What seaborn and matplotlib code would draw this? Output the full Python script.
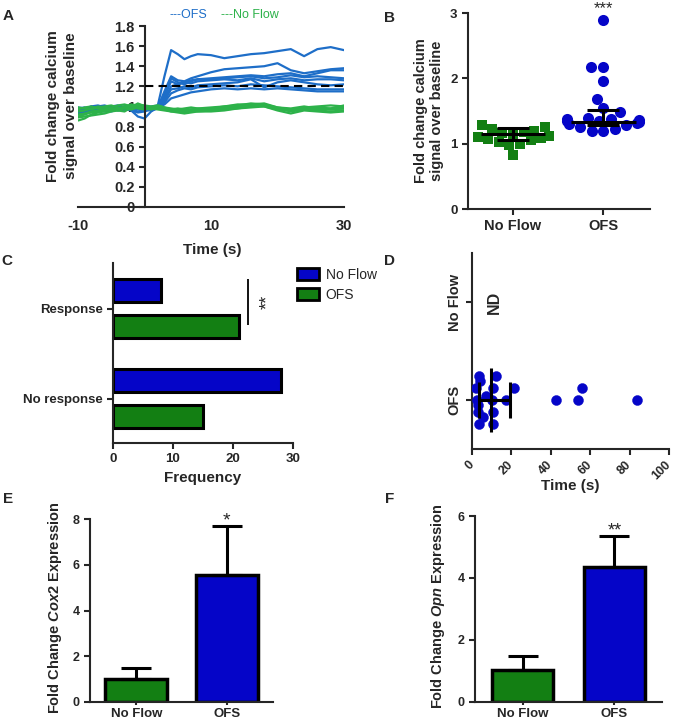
import numpy as np
import pandas as pd
import seaborn as sns
import matplotlib.pyplot as plt
from matplotlib.patches import Patch

# ---- Panel A: calcium traces (fold change over baseline) ----
t_sec = [-10, -9, -8, -7, -6, -5, -4, -3, -2, -1, 0, 1, 2, 3, 4, 5, 6, 7, 8,
         10, 12, 14, 16, 18, 20, 22, 24, 26, 28, 30]
ofs_traces = [
    [0.95, 0.97, 0.99, 1.00, 0.98, 0.97, 0.99, 1.00, 0.98, 0.97, 0.99, 1.00, 1.01, 1.30, 1.56, 1.52, 1.47, 1.50, 1.52, 1.51, 1.48, 1.50, 1.52, 1.53, 1.55, 1.57, 1.50, 1.57, 1.59, 1.56],
    [0.93, 0.96, 1.00, 1.01, 0.99, 0.97, 0.98, 1.00, 0.96, 0.90, 0.88, 0.95, 0.99, 1.15, 1.30, 1.26, 1.25, 1.28, 1.30, 1.34, 1.37, 1.38, 1.39, 1.40, 1.43, 1.36, 1.33, 1.35, 1.37, 1.38],
    [0.98, 0.99, 0.97, 0.96, 0.98, 1.00, 1.01, 0.99, 0.97, 0.95, 0.97, 0.99, 1.00, 1.12, 1.28, 1.24, 1.22, 1.25, 1.27, 1.28, 1.29, 1.30, 1.31, 1.30, 1.32, 1.33, 1.30, 1.33, 1.36, 1.36],
    [0.96, 0.95, 0.97, 0.99, 1.00, 0.98, 0.96, 0.97, 0.99, 1.00, 0.98, 0.97, 0.99, 1.10, 1.25, 1.22, 1.24, 1.26, 1.27, 1.27, 1.28, 1.29, 1.30, 1.28, 1.29, 1.31, 1.29, 1.30, 1.29, 1.28],
    [0.92, 0.94, 0.96, 0.97, 0.95, 0.96, 0.98, 0.99, 1.00, 0.98, 0.96, 0.98, 1.00, 1.08, 1.20, 1.22, 1.24, 1.23, 1.25, 1.26, 1.27, 1.26, 1.28, 1.25, 1.27, 1.28, 1.26, 1.27, 1.27, 1.26],
    [0.97, 0.98, 1.00, 0.99, 0.97, 0.95, 0.97, 0.98, 0.96, 0.94, 0.95, 0.97, 0.98, 1.06, 1.17, 1.18, 1.20, 1.19, 1.21, 1.22, 1.23, 1.24, 1.27, 1.19, 1.24, 1.26, 1.24, 1.22, 1.21, 1.22],
    [0.94, 0.96, 0.98, 1.00, 1.01, 0.99, 0.97, 0.96, 0.98, 0.99, 0.97, 0.96, 0.98, 1.04, 1.13, 1.16, 1.18, 1.17, 1.19, 1.20, 1.21, 1.20, 1.22, 1.21, 1.20, 1.19, 1.18, 1.17, 1.17, 1.17],
    [0.99, 0.98, 0.96, 0.95, 0.97, 0.99, 1.00, 0.98, 0.97, 0.98, 0.99, 0.98, 0.99, 1.02, 1.08, 1.10, 1.12, 1.14, 1.15, 1.17, 1.18, 1.17, 1.18, 1.17, 1.18, 1.17, 1.16, 1.15, 1.15, 1.15],
]
noflow_traces = [
    [0.86, 0.88, 0.92, 0.94, 0.95, 0.97, 0.98, 1.00, 1.02, 1.01, 0.99, 0.98, 1.00, 0.98, 0.97, 0.96, 0.95, 0.96, 0.95, 0.96, 0.98, 0.99, 1.01, 1.02, 0.98, 0.95, 0.97, 0.96, 0.95, 0.96],
    [0.89, 0.90, 0.91, 0.92, 0.93, 0.95, 0.96, 0.95, 0.99, 1.03, 1.00, 0.99, 1.00, 0.97, 0.95, 0.95, 0.94, 0.95, 0.96, 0.97, 0.99, 1.00, 1.02, 1.03, 0.99, 0.97, 0.99, 0.97, 0.98, 0.99],
    [0.97, 0.99, 1.00, 0.98, 0.97, 0.99, 1.01, 1.02, 1.00, 0.98, 0.97, 0.99, 1.01, 0.99, 0.98, 0.97, 0.98, 0.99, 0.98, 0.97, 0.98, 1.00, 1.01, 1.00, 0.97, 0.96, 0.98, 0.99, 0.97, 0.98],
    [0.95, 0.96, 0.98, 1.00, 0.99, 0.97, 0.96, 0.98, 1.00, 1.01, 0.99, 0.98, 0.97, 0.96, 0.95, 0.94, 0.93, 0.94, 0.95, 0.95, 0.96, 0.98, 0.99, 1.00, 0.96, 0.93, 0.96, 0.95, 0.94, 0.95],
    [0.92, 0.93, 0.95, 0.96, 0.97, 0.98, 0.97, 0.99, 1.01, 1.00, 0.98, 0.97, 0.99, 0.98, 0.96, 0.96, 0.97, 0.96, 0.97, 0.98, 1.00, 1.01, 1.03, 1.02, 0.99, 0.98, 1.00, 0.98, 0.97, 0.98],
    [0.99, 0.98, 0.97, 0.99, 1.00, 1.01, 0.99, 0.98, 0.97, 0.99, 1.00, 0.98, 0.99, 0.97, 0.96, 0.97, 0.96, 0.97, 0.96, 0.97, 0.97, 0.98, 1.00, 1.01, 0.98, 0.96, 0.99, 1.00, 1.01, 1.00],
    [0.90, 0.92, 0.94, 0.95, 0.96, 0.96, 0.98, 0.99, 1.00, 1.02, 1.01, 1.00, 1.01, 0.99, 0.97, 0.98, 0.97, 0.97, 0.98, 0.99, 1.00, 1.02, 1.02, 1.01, 0.98, 0.97, 0.98, 0.99, 0.98, 1.01],
]
threshold = 1.2

# ---- Panel B: peak fold change per cell ----
b_noflow = [0.83, 0.98, 1.00, 1.02, 1.05, 1.07, 1.08, 1.10, 1.12, 1.15, 1.17, 1.18, 1.20, 1.22, 1.25, 1.28]
b_ofs = [1.19, 1.20, 1.22, 1.25, 1.28, 1.30, 1.32, 1.33, 1.34, 1.35, 1.36, 1.37, 1.38, 1.40, 1.48,
         1.55, 1.69, 1.96, 2.17, 2.17, 2.90]
b_mid = [1.15, 1.33]
b_lo = [1.06, 1.29]
b_hi = [1.24, 1.52]

# ---- Panel C: response counts ----
c_cats = ['Response', 'No response']
c_noflow = [8, 28]
c_ofs = [21, 15]

# ---- Panel D: time to response (OFS only) ----
d_times = [3.7, 12.0, 2.0, 10.8, 21.5, 55.7, 4.0, 7.0, 2.4, 10.0, 17.3, 42.5, 54.0, 84.0,
           3.0, 10.5, 5.7, 3.7, 10.8, 2.9]
d_jitter = [0.245, 0.245, 0.12, 0.125, 0.12, 0.12, 0.19, 0.04, 0.0, 0.0, 0.0, 0.0, 0.0, 0.0,
            -0.125, -0.125, -0.17, -0.24, -0.24, -0.05]
d_median, d_q1, d_q3 = 9.6, 3.7, 19.3

# ---- Panels E, F: gene expression ----
groups = ['No Flow', 'OFS']
e_mean = [1.0, 5.55]
e_sem = [0.47, 2.15]
f_mean = [1.02, 4.37]
f_sem = [0.47, 1.0]

blue = '#0505c8'
green = '#137f13'
a_blue = '#1e6ec8'
a_green = '#2db24a'

sns.set_style('ticks')
plt.rcParams['font.family'] = ['Liberation Sans', 'DejaVu Sans']
plt.rcParams['font.weight'] = 'bold'
plt.rcParams['axes.linewidth'] = 1.5
plt.rcParams['xtick.major.width'] = 1.5
plt.rcParams['ytick.major.width'] = 1.5
plt.rcParams['xtick.major.size'] = 4
plt.rcParams['ytick.major.size'] = 4
plt.rcParams['mathtext.fontset'] = 'custom'
plt.rcParams['mathtext.it'] = 'Liberation Sans:italic:bold'
plt.rcParams['mathtext.rm'] = 'Liberation Sans:bold'

fig = plt.figure(figsize=(6.75, 7.22), dpi=100)
W, H = 675, 722


def box(l, t, r, b):
    ax = fig.add_axes([l / W, 1 - b / H, (r - l) / W, (b - t) / H])
    sns.despine(ax=ax)
    return ax


def ftext(x, y, s, **kw):
    kw.setdefault('ha', 'center')
    kw.setdefault('va', 'center')
    fig.text(x / W, 1 - y / H, s, **kw)


# ---------------- A ----------------
axA = box(78, 26, 344, 207)
frames = []
for i, tr in enumerate(ofs_traces):
    d = pd.DataFrame({'t': t_sec, 'v': tr})
    d['cell'] = f'ofs{i}'
    d['group'] = 'OFS'
    frames.append(d)
for i, tr in enumerate(noflow_traces):
    d = pd.DataFrame({'t': t_sec, 'v': tr})
    d['cell'] = f'nf{i}'
    d['group'] = 'No Flow'
    frames.append(d)
df_a = pd.concat(frames, ignore_index=True)
sns.lineplot(data=df_a, x='t', y='v', hue='group', units='cell', estimator=None,
             hue_order=['OFS', 'No Flow'], palette={'OFS': a_blue, 'No Flow': a_green},
             lw=1.6, legend=False, ax=axA)
axA.hlines(threshold, 0, t_sec[-1], colors='black', linestyles=(0, (4, 2.5)), lw=1.5, zorder=5)
axA.spines['left'].set_position(('data', 0))
axA.set_xlim(-10, 30)
axA.set_ylim(0, 1.8)
yt = np.round(np.arange(0, 1.81, 0.2), 1)
axA.set_yticks(yt)
axA.set_yticklabels(['0', '0.2', '0.4', '0.6', '0.8', '1', '1.2', '1.4', '1.6', '1.8'], fontsize=10.5)
axA.set_xticks([-10, 10, 30])
axA.set_xticklabels(['-10', '10', '30'], fontsize=10.5)
axA.tick_params(axis='x', length=0, pad=9)
axA.tick_params(axis='y', length=4, pad=3)
axA.set_xlabel('')
axA.set_ylabel('')
ftext(62, 106, 'Fold change calcium\nsignal over baseline', rotation=90, fontsize=11, linespacing=1.35)
ftext(212, 250, 'Time (s)', fontsize=11)
ftext(188, 15, '---OFS', color=a_blue, fontsize=9, fontweight='normal')
ftext(250, 15, '---No Flow', color=a_green, fontsize=9, fontweight='normal')

# ---------------- B ----------------
axB = box(468, 13, 650, 209)
sns.swarmplot(x=['No Flow'] * len(b_noflow), y=b_noflow, order=groups, marker='s', size=7.5,
              color=green, linewidth=0, ax=axB)
sns.swarmplot(x=['OFS'] * len(b_ofs), y=b_ofs, order=groups, marker='o', size=8,
              color=blue, linewidth=0, ax=axB)
for i in range(2):
    axB.hlines(b_mid[i], i - 0.36, i + 0.36, colors='black', lw=2.2, zorder=5)
    axB.hlines([b_lo[i], b_hi[i]], i - 0.18, i + 0.18, colors='black', lw=2.2, zorder=5)
    axB.vlines(i, b_lo[i], b_hi[i], colors='black', lw=2.2, zorder=5)
axB.set_xlim(-0.5, 1.52)
axB.set_ylim(0, 3)
axB.set_yticks([0, 1, 2, 3])
axB.tick_params(axis='y', labelsize=9.5)
axB.tick_params(axis='x', labelsize=10.5)
axB.set_ylabel('')
axB.text(1, 3.0, '***', ha='center', va='baseline', fontsize=12, fontweight='normal')
ftext(429, 111, 'Fold change calcium\nsignal over baseline', rotation=90, fontsize=10.5, linespacing=1.25)

# ---------------- C ----------------
axC = box(113, 263, 293, 443)
df_c = pd.DataFrame({'resp': c_cats * 2,
                     'freq': c_noflow + c_ofs,
                     'group': ['No Flow'] * 2 + ['OFS'] * 2})
sns.barplot(data=df_c, x='freq', y='resp', hue='group', order=c_cats, hue_order=groups,
            palette={'No Flow': blue, 'OFS': green}, orient='h', gap=0.36, saturation=1,
            edgecolor='black', linewidth=2.2, legend=False, ax=axC)
axC.set_xlim(0, 30)
axC.set_ylim(1.49, -0.51)
axC.set_xticks([0, 10, 20, 30])
axC.tick_params(labelsize=9.5)
axC.set_xlabel('')
axC.set_ylabel('')
axC.vlines(22.5, -0.33, 0.18, colors='black', lw=1.3)
axC.text(25.7, -0.08, '**', rotation=90, ha='center', va='center', fontsize=13, fontweight='normal')
ftext(203, 478, 'Frequency', fontsize=11)
handles = [Patch(facecolor=blue, edgecolor='black', lw=2), Patch(facecolor=green, edgecolor='black', lw=2)]
fig.legend(handles, groups, loc='upper left', bbox_to_anchor=(284 / W, 1 - 255 / H), frameon=False,
           handlelength=1.6, handleheight=1.0, handletextpad=0.5, labelspacing=0.45,
           prop={'size': 10, 'weight': 'normal'})

# ---------------- D ----------------
axD = box(472, 253, 669, 449)
sns.scatterplot(x=d_times, y=d_jitter, color=blue, s=52, edgecolor=blue, linewidth=0.3, ax=axD, zorder=3)
axD.hlines(0, d_q1, d_q3, colors='black', lw=2.2, zorder=5)
axD.vlines(d_median, -0.33, 0.33, colors='black', lw=2.2, zorder=5)
axD.vlines([d_q1, d_q3], -0.18, 0.18, colors='black', lw=2.2, zorder=5)
axD.set_xlim(0, 100)
axD.set_ylim(-0.5, 1.5)
axD.set_yticks([0, 1])
axD.set_yticklabels(['OFS', 'No Flow'], rotation=90, va='center', fontsize=10.5)
axD.set_xticks(range(0, 101, 20))
axD.set_xticklabels([str(v) for v in range(0, 101, 20)], rotation=45, ha='right', va='center',
                    rotation_mode='anchor', fontsize=9)
axD.tick_params(axis='x', pad=6)
axD.text(11.2, 1, 'ND', rotation=90, ha='center', va='center', fontsize=11.5)
ftext(570, 486, 'Time (s)', fontsize=11)

# ---------------- E ----------------
axE = box(90, 519, 273, 702)
sns.barplot(x=groups, y=e_mean, hue=groups, palette=[green, blue], width=0.69, saturation=1,
            edgecolor='black', linewidth=2.5, legend=False, ax=axE)
axE.errorbar([0, 1], e_mean, yerr=[np.zeros(2), e_sem], fmt='none', ecolor='black',
             elinewidth=2.2, capsize=11, capthick=2.2, zorder=1)
axE.set_xlim(-0.51, 1.51)
axE.set_ylim(0, 8)
axE.set_yticks([0, 2, 4, 6, 8])
axE.tick_params(axis='y', labelsize=9)
axE.tick_params(axis='x', labelsize=9.5, length=2, pad=2)
axE.text(1, e_mean[1] + e_sem[1], '*', ha='center', va='baseline', fontsize=14, fontweight='normal')
ftext(55, 608, r'Fold Change $\mathit{Cox2}$ Expression', rotation=90, fontsize=10.5)

# ---------------- F ----------------
axF = box(475, 516, 662, 702)
sns.barplot(x=groups, y=f_mean, hue=groups, palette=[green, blue], width=0.67, saturation=1,
            edgecolor='black', linewidth=2.5, legend=False, ax=axF)
axF.errorbar([0, 1], f_mean, yerr=[np.zeros(2), f_sem], fmt='none', ecolor='black',
             elinewidth=2.2, capsize=11, capthick=2.2, zorder=1)
axF.set_xlim(-0.52, 1.52)
axF.set_ylim(0, 6)
axF.set_yticks([0, 2, 4, 6])
axF.tick_params(axis='y', labelsize=9)
axF.tick_params(axis='x', labelsize=9.5, length=2, pad=2)
axF.text(1, f_mean[1] + f_sem[1], '**', ha='center', va='baseline', fontsize=13, fontweight='normal')
ftext(438, 606, r'Fold Change $\mathit{Opn}$ Expression', rotation=90, fontsize=10.5)

# panel letters
for s, x, y in [('A', 8, 16), ('B', 390, 18), ('C', 7, 261), ('D', 390, 261), ('E', 8, 499), ('F', 390, 499)]:
    ftext(x, y, s, fontsize=11)

fig.savefig('out.png', dpi=100)
